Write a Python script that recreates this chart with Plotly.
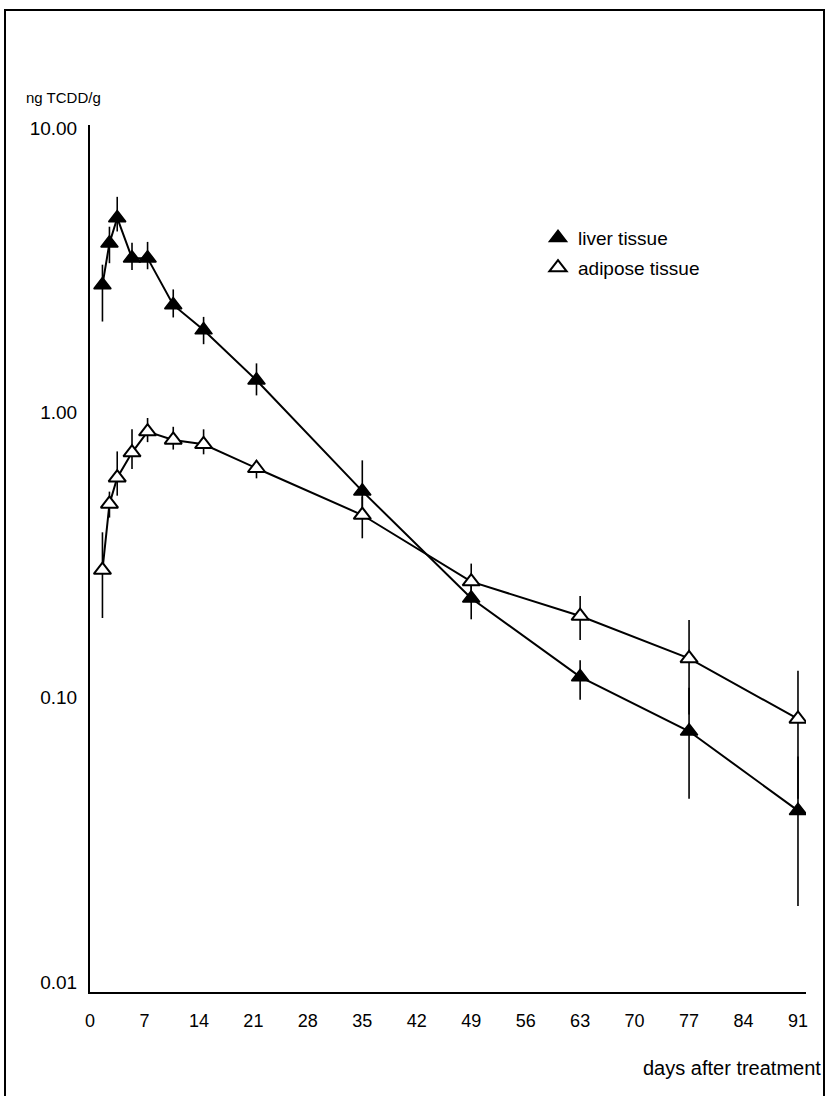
import plotly.graph_objects as go

# ---- data ----
days = [1.6, 2.5, 3.5, 5.4, 7.4, 10.7, 14.6, 21.4, 35, 49, 63, 77, 91]

liver = [2.81, 3.94, 4.83, 3.49, 3.49, 2.39, 1.95, 1.30, 0.53, 0.223, 0.118, 0.076, 0.040]
liver_plus = [0.50, 0.56, 0.90, 0.46, 0.49, 0.32, 0.22, 0.19, 0.15, 0.04, 0.017, 0.032, 0.022]
liver_minus = [0.72, 0.59, 0.50, 0.32, 0.30, 0.23, 0.21, 0.15, 0.08, 0.035, 0.020, 0.032, 0.0215]

adipose = [0.28, 0.478, 0.591, 0.724, 0.858, 0.802, 0.774, 0.638, 0.437, 0.255, 0.193, 0.137, 0.084]
adipose_plus = [0.10, 0.05, 0.14, 0.15, 0.10, 0.09, 0.10, 0.04, 0.07, 0.04, 0.034, 0.05, 0.04]
adipose_minus = [0.09, 0.05, 0.08, 0.09, 0.07, 0.06, 0.06, 0.05, 0.075, 0.04, 0.034, 0.05, 0.04]

x_ticks = [0, 7, 14, 21, 28, 35, 42, 49, 56, 63, 70, 77, 84, 91]
y_ticks = [0.01, 0.1, 1, 10]
y_ticktext = ["0.01", "0.10", "1.00", "10.00"]

# ---- layout geometry ----
WIDTH, HEIGHT = 826, 1096
L, T = 90, 125
PW, PH = 716, 867
R = WIDTH - L - PW
B = HEIGHT - T - PH
FONT = "Liberation Sans, Arial, Helvetica, sans-serif"


def px(xp):
    return (xp - L) / PW


def py(yp):
    return 1 - (yp - T) / PH


fig = go.Figure()

fig.add_trace(go.Scatter(
    x=days, y=liver, mode="lines+markers", name="liver tissue", showlegend=False,
    line=dict(color="black", width=2),
    marker=dict(symbol="triangle-up", size=15, color="black",
                line=dict(color="black", width=1.5)),
    error_y=dict(type="data", symmetric=False, array=liver_plus,
                 arrayminus=liver_minus, color="black", thickness=1.6, width=0),
))

fig.add_trace(go.Scatter(
    x=days, y=adipose, mode="lines+markers", name="adipose tissue", showlegend=False,
    line=dict(color="black", width=2),
    marker=dict(symbol="triangle-up", size=15, color="white",
                line=dict(color="black", width=2)),
    error_y=dict(type="data", symmetric=False, array=adipose_plus,
                 arrayminus=adipose_minus, color="black", thickness=1.6, width=0),
))

# legend entries (marker only)
fig.add_trace(go.Scatter(
    x=[None], y=[None], mode="markers", name="liver tissue", legendgroup="a",
    marker=dict(symbol="triangle-up", size=15, color="black",
                line=dict(color="black", width=1.5)),
))
fig.add_trace(go.Scatter(
    x=[None], y=[None], mode="markers", name="adipose tissue", legendgroup="b",
    marker=dict(symbol="triangle-up", size=15, color="white",
                line=dict(color="black", width=2)),
))

fig.update_layout(
    width=WIDTH, height=HEIGHT,
    margin=dict(l=L, r=R, t=T, b=B, pad=0),
    paper_bgcolor="white", plot_bgcolor="white",
    font=dict(family=FONT, size=18, color="black"),
    showlegend=True,
    legend=dict(x=px(538), y=py(219), xanchor="left", yanchor="top",
                font=dict(family=FONT, size=19, color="black"),
                bgcolor="rgba(0,0,0,0)", itemwidth=30, tracegroupgap=2),
    xaxis=dict(
        range=[0, PW / 7.78], tickmode="array", tickvals=x_ticks,
        showline=True, linecolor="black", linewidth=2, showgrid=False, zeroline=False,
        ticks="outside", ticklen=11, tickcolor="rgba(0,0,0,0)",
        tickfont=dict(family=FONT, size=18, color="black"),
    ),
    yaxis=dict(
        type="log", range=[-2.035, 1.0105], tickmode="array",
        tickvals=y_ticks, ticktext=y_ticktext,
        showline=True, linecolor="black", linewidth=2, showgrid=False, zeroline=False,
        ticks="outside", ticklen=7, tickcolor="rgba(0,0,0,0)",
        tickfont=dict(family=FONT, size=19, color="black"),
    ),
    annotations=[
        dict(text="ng TCDD/g", xref="paper", yref="paper", x=px(24), y=py(97),
             xanchor="left", yanchor="middle", showarrow=False,
             font=dict(family=FONT, size=15, color="black")),
        dict(text="days after treatment", xref="paper", yref="paper", x=px(823), y=py(1068),
             xanchor="right", yanchor="middle", showarrow=False,
             font=dict(family=FONT, size=20, color="black")),
    ],
    shapes=[
        dict(type="rect", xref="paper", yref="paper",
             x0=px(5), x1=px(824), y0=py(1110), y1=py(10),
             line=dict(color="black", width=2), fillcolor="rgba(0,0,0,0)"),
    ],
)

fig.write_html(
    "out.html",
    config={"displayModeBar": False},
    post_script="document.body.style.margin='0';document.body.style.overflow='hidden';",
)
